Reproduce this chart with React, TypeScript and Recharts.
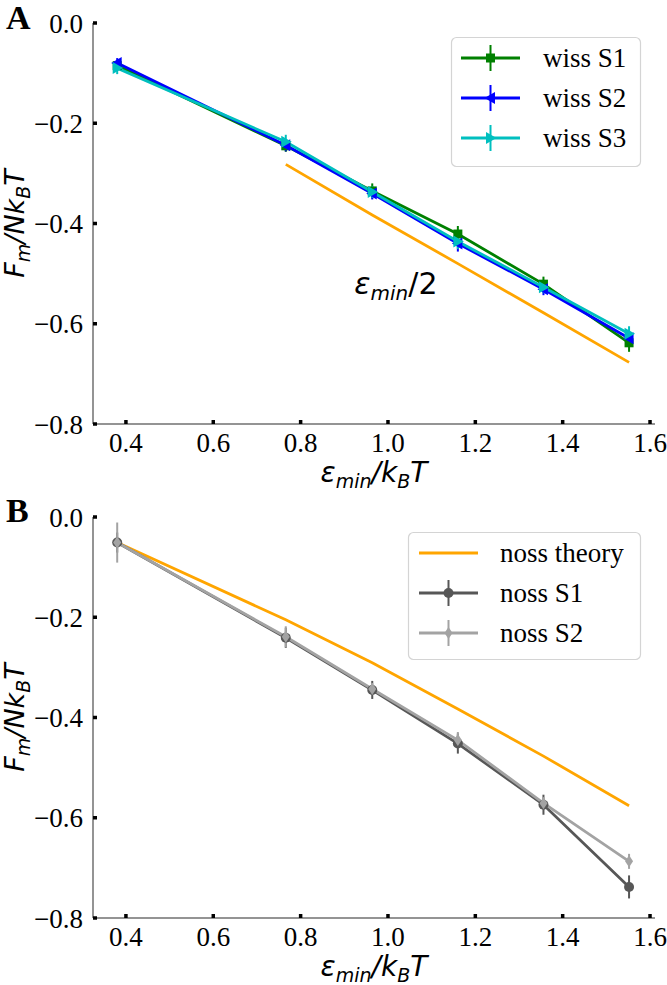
import React from "react";
import {
  LineChart, Line, XAxis, YAxis, ErrorBar, ReferenceDot,
} from "recharts";

// values
const XS = [0.38, 0.766, 0.964, 1.16, 1.356, 1.552];
const X_TICKS = [0.4, 0.6, 0.8, 1.0, 1.2, 1.4, 1.6];
const Y_TICKS = [0, -0.2, -0.4, -0.6, -0.8];

const WISS_S1 = [-0.085, -0.245, -0.335, -0.421, -0.521, -0.638];
const WISS_S1_ERR = [0.01, 0.012, 0.015, 0.016, 0.015, 0.018];
const WISS_S2 = [-0.08, -0.244, -0.34, -0.44, -0.531, -0.629];
const WISS_S2_ERR = [0.01, 0.012, 0.012, 0.016, 0.012, 0.015];
const WISS_S3 = [-0.09, -0.237, -0.337, -0.436, -0.527, -0.62];
const WISS_S3_ERR = [0.012, 0.014, 0.012, 0.015, 0.012, 0.015];
const HALF_EPS = [null, -0.282, -0.383, -0.48, -0.578, -0.677];

const NOSS_THEORY = [-0.051, -0.205, -0.291, -0.383, -0.477, -0.576];
const NOSS_S1 = [-0.051, -0.241, -0.345, -0.452, -0.574, -0.738];
const NOSS_S1_ERR = [0.02, 0.02, 0.018, 0.02, 0.02, 0.023];
const NOSS_S2 = [-0.051, -0.239, -0.343, -0.445, -0.571, -0.687];
const NOSS_S2_ERR = [0.04, 0.021, 0.012, 0.016, 0.012, 0.015];

const dataA = XS.map((x, i) => ({
  x,
  s1: WISS_S1[i], s1e: WISS_S1_ERR[i],
  s2: WISS_S2[i], s2e: WISS_S2_ERR[i],
  s3: WISS_S3[i], s3e: WISS_S3_ERR[i],
  half: HALF_EPS[i],
}));

const dataB = XS.map((x, i) => ({
  x,
  th: NOSS_THEORY[i],
  n1: NOSS_S1[i], n1e: NOSS_S1_ERR[i],
  n2: NOSS_S2[i], n2e: NOSS_S2_ERR[i],
}));

const GREEN = "#008000";
const BLUE = "#0000ff";
const CYAN = "#00bfbf";
const ORANGE = "#ffa500";
const DARK = "#575757";
const LIGHT = "#a3a3a3";
const FRAME = "#707070";
const SERIF = "Liberation Serif";
const MATH = "DejaVu Sans";
const LW = 2.8;

const W = 667;
const H = 491;
const MARGIN = { top: 23, right: 12, left: 0, bottom: 0 };
const X_DOMAIN: [number, number] = [0.3246, 1.6114];

const tickFont = { fontFamily: SERIF, fontSize: 27, fill: "#000" };
const tickMark = { stroke: "#000", strokeWidth: 3.5 };

type Marker = "square" | "left" | "right" | "circle" | "diamond";

function markerShape(kind: Marker, cx: number, cy: number, color: string, key?: string) {
  if (kind === "square") return <rect key={key} x={cx - 4.5} y={cy - 4.5} width={9} height={9} fill={color} />;
  if (kind === "circle") return <circle key={key} cx={cx} cy={cy} r={5} fill={color} />;
  if (kind === "left")
    return <polygon key={key} points={`${cx - 6},${cy} ${cx + 4.5},${cy - 6} ${cx + 4.5},${cy + 6}`} fill={color} />;
  if (kind === "right")
    return <polygon key={key} points={`${cx + 6},${cy} ${cx - 4.5},${cy - 6} ${cx - 4.5},${cy + 6}`} fill={color} />;
  return <polygon key={key} points={`${cx},${cy - 6} ${cx + 4},${cy} ${cx},${cy + 6} ${cx - 4},${cy}`} fill={color} />;
}

const dot = (kind: Marker, color: string) => (p: any) => {
  const k = `d-${kind}-${p.index}`;
  if (p.cx == null || p.cy == null) return <g key={k} />;
  return markerShape(kind, p.cx, p.cy, color, k);
};

const fmtX = (v: number) => Number(v).toFixed(1);
const fmtY = (v: number) => (v === 0 ? "0.0" : "\u2212" + Math.abs(v).toFixed(1));

const XLabel = (p: any) => {
  const vb = p.viewBox || { x: 93, y: 424, width: 562 };
  return (
    <text x={vb.x + vb.width / 2} y={vb.y + 58} textAnchor="middle" fontFamily={MATH} fontSize={28} fontStyle="italic" fill="#000">
      ε<tspan fontSize={19} dy={6}>min</tspan>
      <tspan dy={-6}>/k</tspan>
      <tspan fontSize={19} dy={6}>B</tspan>
      <tspan dy={-6}>T</tspan>
    </text>
  );
};

const YLabel = (p: any) => {
  const vb = p.viewBox || { x: 0, y: 23, height: 401 };
  const cx = 24;
  const cy = vb.y + vb.height / 2;
  return (
    <text x={cx} y={cy} transform={`rotate(-90, ${cx}, ${cy})`} textAnchor="middle" fontFamily={MATH} fontSize={27} fontStyle="italic" fill="#000">
      F<tspan fontSize={19} dy={6}>m</tspan>
      <tspan dy={-6}>/Nk</tspan>
      <tspan fontSize={19} dy={6}>B</tspan>
      <tspan dy={-6}>T</tspan>
    </text>
  );
};

const EpsLabel = (p: any) => {
  const vb = p.viewBox || { x: 355, y: 295 };
  return (
    <text x={vb.x} y={vb.y} fontFamily={MATH} fontSize={30} fontStyle="italic" fill="#000">
      ε<tspan fontSize={20} dy={6}>min</tspan>
      <tspan dy={-6} fontStyle="normal">/2</tspan>
    </text>
  );
};

function Frame() {
  return [
    <XAxis key="xt" xAxisId="top" orientation="top" type="number" domain={X_DOMAIN} allowDataOverflow height={0} tick={false} tickLine={false} axisLine={{ stroke: FRAME, strokeWidth: 1.5 }} />,
    <YAxis key="yr" yAxisId="right" orientation="right" type="number" domain={[-0.8, 0]} width={0} tick={false} tickLine={false} axisLine={{ stroke: FRAME, strokeWidth: 1.5 }} />,
  ];
}

function Axes() {
  return [
    <XAxis
      key="x"
      dataKey="x"
      type="number"
      domain={X_DOMAIN}
      allowDataOverflow
      ticks={X_TICKS}
      interval={0}
      height={67}
      tickSize={-4}
      tickMargin={13}
      tickLine={tickMark}
      tick={tickFont}
      tickFormatter={fmtX}
      axisLine={{ stroke: FRAME, strokeWidth: 1.5 }}
      label={<XLabel />}
    />,
    <YAxis
      key="y"
      type="number"
      domain={[-0.8, 0]}
      allowDataOverflow
      ticks={Y_TICKS}
      interval={0}
      width={93}
      tickSize={-4}
      tickMargin={14}
      tickLine={tickMark}
      tick={tickFont}
      tickFormatter={fmtY}
      axisLine={{ stroke: FRAME, strokeWidth: 1.5 }}
      label={<YLabel />}
    />,
  ];
}

type Entry = { label: string; color: string; marker?: Marker; err?: boolean };

function LegendBox({ left, top, width, height, lineX, textX, rowY, entries }: {
  left: number; top: number; width: number; height: number;
  lineX: [number, number]; textX: number; rowY: number[]; entries: Entry[];
}) {
  return (
    <svg width={width + 4} height={height + 4} style={{ position: "absolute", left: left - 2, top: top - 2 }}>
      <g transform="translate(2,2)">
        <rect x={0.5} y={0.5} width={width - 1} height={height - 1} rx={5} fill="rgba(255,255,255,0.85)" stroke="#d4d4d4" strokeWidth={1.2} />
        {entries.map((e, i) => {
          const y = rowY[i] - top;
          const x1 = lineX[0] - left;
          const x2 = lineX[1] - left;
          const mx = (x1 + x2) / 2;
          return (
            <g key={e.label}>
              <line x1={x1} x2={x2} y1={y} y2={y} stroke={e.color} strokeWidth={LW} />
              {e.err && <line x1={mx} x2={mx} y1={y - 13} y2={y + 13} stroke={e.color} strokeWidth={2} />}
              {e.marker && markerShape(e.marker, mx, y, e.color)}
              <text x={textX - left} y={y + 9} fontFamily={SERIF} fontSize={27} fill="#000">{e.label}</text>
            </g>
          );
        })}
      </g>
    </svg>
  );
}

function PanelLetter({ letter, top }: { letter: string; top: number }) {
  return (
    <div style={{ position: "absolute", left: 6, top, fontFamily: SERIF, fontWeight: 700, fontSize: 34, lineHeight: "34px" }}>
      {letter}
    </div>
  );
}

export default function App() {
  return (
    <div style={{ position: "absolute", left: 0, top: 0, width: W, height: 985, background: "#fff" }}>
      <div style={{ position: "absolute", left: 0, top: 0 }}>
        <LineChart width={W} height={H} data={dataA} margin={MARGIN}>
          {Frame()}
          {Axes()}
          <Line dataKey="half" stroke={ORANGE} strokeWidth={LW} dot={false} isAnimationActive={false} />
          <Line dataKey="s1" stroke={GREEN} strokeWidth={LW} dot={dot("square", GREEN)} activeDot={false} isAnimationActive={false}>
            <ErrorBar dataKey="s1e" width={0} stroke={GREEN} strokeWidth={2} direction="y" isAnimationActive={false} />
          </Line>
          <Line dataKey="s2" stroke={BLUE} strokeWidth={LW} dot={dot("left", BLUE)} activeDot={false} isAnimationActive={false}>
            <ErrorBar dataKey="s2e" width={0} stroke={BLUE} strokeWidth={2} direction="y" isAnimationActive={false} />
          </Line>
          <Line dataKey="s3" stroke={CYAN} strokeWidth={LW} dot={dot("right", CYAN)} activeDot={false} isAnimationActive={false}>
            <ErrorBar dataKey="s3e" width={0} stroke={CYAN} strokeWidth={2} direction="y" isAnimationActive={false} />
          </Line>
          <ReferenceDot x={0.923} y={-0.54} r={0} fill="none" stroke="none" label={<EpsLabel />} />
        </LineChart>
      </div>
      <div style={{ position: "absolute", left: 0, top: 494 }}>
        <LineChart width={W} height={H} data={dataB} margin={MARGIN}>
          {Frame()}
          {Axes()}
          <Line dataKey="th" stroke={ORANGE} strokeWidth={LW} dot={false} isAnimationActive={false} />
          <Line dataKey="n1" stroke={DARK} strokeWidth={LW} dot={dot("circle", DARK)} activeDot={false} isAnimationActive={false}>
            <ErrorBar dataKey="n1e" width={0} stroke={DARK} strokeWidth={2} direction="y" isAnimationActive={false} />
          </Line>
          <Line dataKey="n2" stroke={LIGHT} strokeWidth={LW} dot={dot("diamond", LIGHT)} activeDot={false} isAnimationActive={false}>
            <ErrorBar dataKey="n2e" width={0} stroke={LIGHT} strokeWidth={2} direction="y" isAnimationActive={false} />
          </Line>
        </LineChart>
      </div>

      <PanelLetter letter="A" top={1} />
      <PanelLetter letter="B" top={494} />

      <LegendBox
        left={451} top={37} width={190} height={130}
        lineX={[461, 520]} textX={543} rowY={[58, 98, 138]}
        entries={[
          { label: "wiss S1", color: GREEN, marker: "square", err: true },
          { label: "wiss S2", color: BLUE, marker: "left", err: true },
          { label: "wiss S3", color: CYAN, marker: "right", err: true },
        ]}
      />
      <LegendBox
        left={408} top={532} width={233} height={128}
        lineX={[419, 478]} textX={500} rowY={[553, 593, 633]}
        entries={[
          { label: "noss theory", color: ORANGE },
          { label: "noss S1", color: DARK, marker: "circle", err: true },
          { label: "noss S2", color: LIGHT, marker: "diamond", err: true },
        ]}
      />
    </div>
  );
}
